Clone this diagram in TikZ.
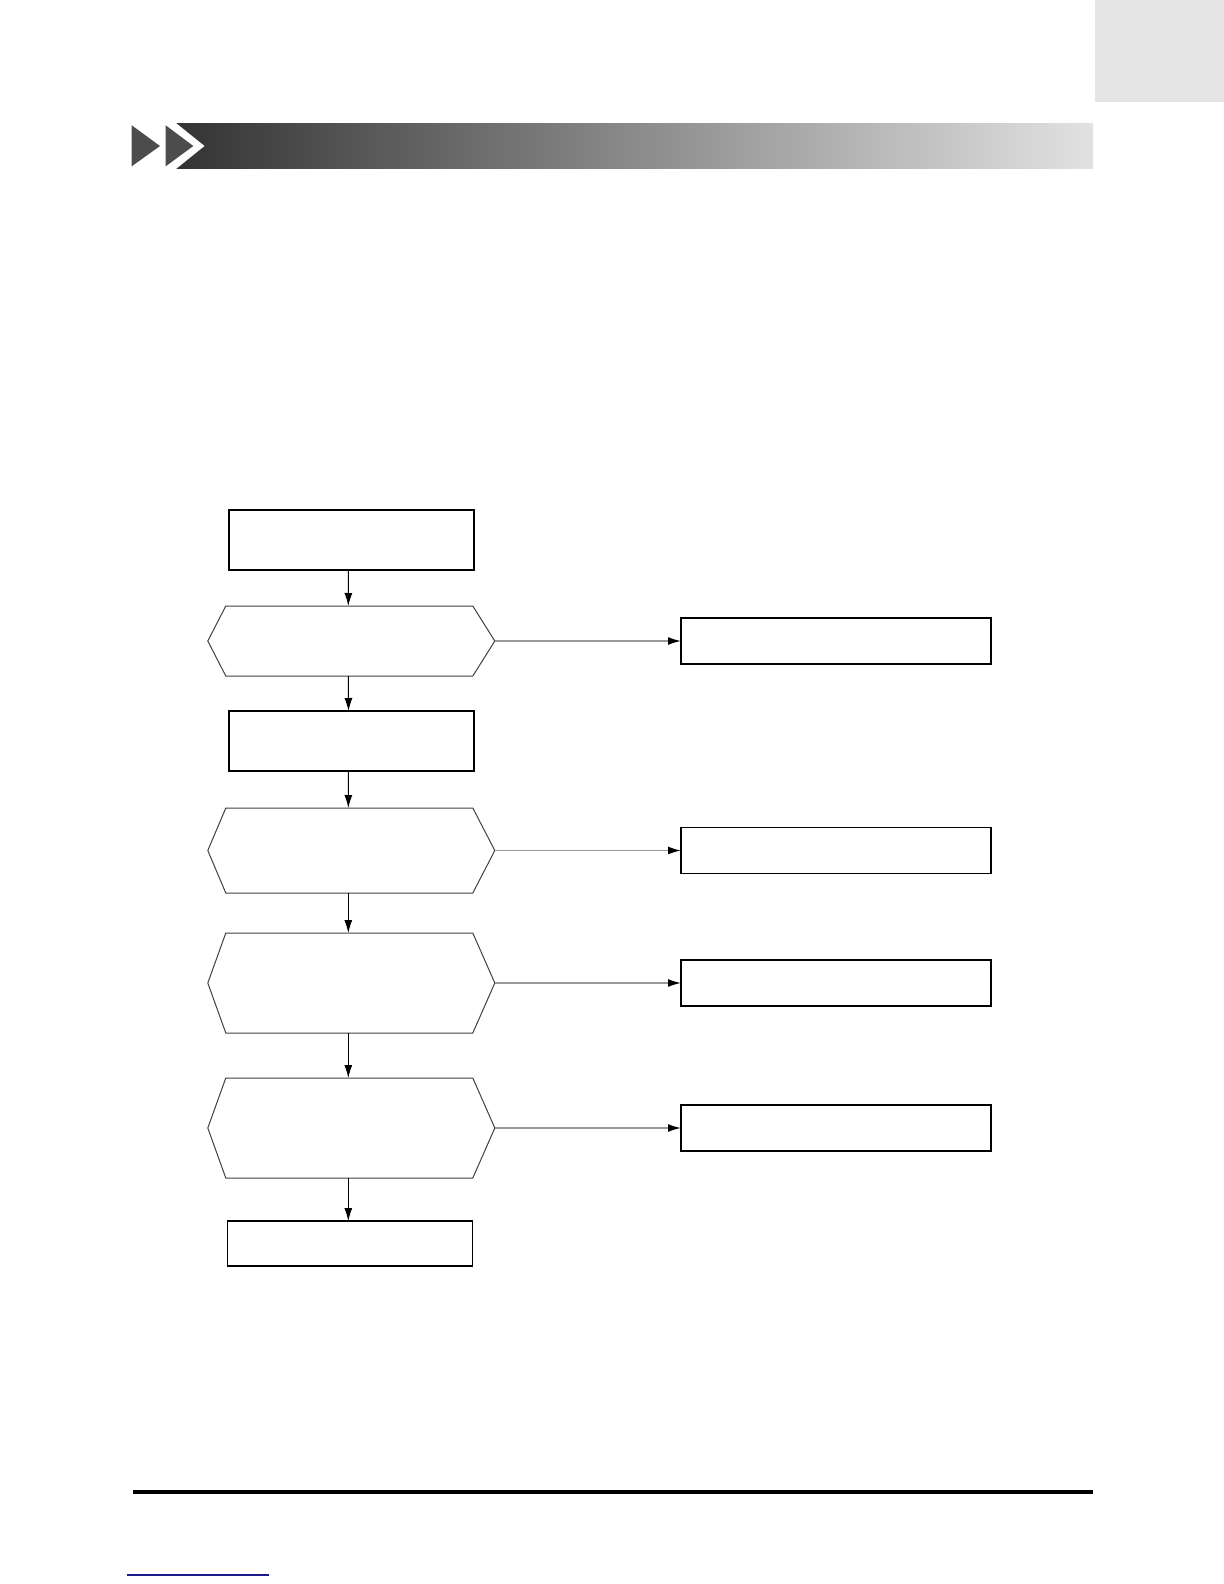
\documentclass[tikz,border=0pt]{standalone}
\usepackage{xcolor}
\usetikzlibrary{arrows.meta, positioning}

\definecolor{tabgray}{HTML}{E4E4E4}
\definecolor{bardark}{HTML}{333333}
\definecolor{barlight}{HTML}{E2E2E2}
\definecolor{linkblue}{HTML}{1A1A8C}

\tikzset{
  stepbox/.style={draw, line width=0.65pt, inner sep=0pt, outer sep=0pt, minimum width=122.5pt},
  sidebox/.style={draw, line width=0.65pt, inner sep=0pt, outer sep=0pt, minimum width=155pt, minimum height=23pt},
  hexbox/.style={inner sep=0pt, outer sep=0pt, minimum width=143.5pt},
  hexline/.style={draw=black!75, line width=0.5pt},
  flow/.style={-{Latex[length=6.5pt,width=4pt,black]}, line width=0.5pt},
  sideflow/.style={flow, draw=black!40, line width=0.7pt},
}

\newcommand{\hexoutline}[1]{%
  \draw[hexline] (#1.west) -- ([xshift=9pt]#1.north west) -- ([xshift=-11pt]#1.north east)
    -- (#1.east) -- ([xshift=-11pt]#1.south east) -- ([xshift=9pt]#1.south west) -- cycle;}

\begin{document}
\begin{tikzpicture}[x=0.5pt,y=-0.5pt]
  \useasboundingbox (0,0) rectangle (1224,1584);

  % page furniture
  \fill[tabgray] (1095,0) rectangle (1224,101.7);
  \shade[left color=bardark, right color=barlight] (175.7,124) rectangle (1093,168.5);
  \fill[white] (174.7,122) -- (204.5,146) -- (174.7,170) -- cycle;
  \fill[black!70] (131.7,125.3) -- (160,146) -- (131.7,166.3) -- cycle;
  \fill[black!70] (165.7,125.3) -- (193.3,146) -- (165.7,166.3) -- cycle;
  \draw[line width=2pt] (132.7,1492) -- (1093,1492);
  \draw[linkblue, line width=0.6pt] (127,1575) -- (269,1575);

  % main column
  \node[stepbox, minimum height=30pt] (b1) at (351.5,540) {};
  \node[hexbox, minimum height=35pt] (d1) at (351.3,641) {};
  \node[stepbox, minimum height=30pt] (b2) at (351.5,741) {};
  \node[hexbox, minimum height=42.5pt] (d2) at (351.3,850.5) {};
  \node[hexbox, minimum height=50pt] (d3) at (351.3,983) {};
  \node[hexbox, minimum height=50pt] (d4) at (351.3,1128) {};
  \node[stepbox, minimum height=22.5pt] (b3) at (350,1243.5) {};
  \hexoutline{d1}
  \hexoutline{d2}
  \hexoutline{d3}
  \hexoutline{d4}

  % side column
  \node[sidebox] (r1) at (836,641) {};
  \node[sidebox] (r2) at (836,850.5) {};
  \node[sidebox] (r3) at (836,983) {};
  \node[sidebox] (r4) at (836,1128) {};

  % connectors
  \draw[flow] ([xshift=-1.5pt]b1.south) -- ([xshift=-1.5pt]d1.north);
  \draw[flow] ([xshift=-1.5pt]d1.south) -- ([xshift=-1.5pt]b2.north);
  \draw[flow] ([xshift=-1.5pt]b2.south) -- ([xshift=-1.5pt]d2.north);
  \draw[flow] ([xshift=-1.5pt]d2.south) -- ([xshift=-1.5pt]d3.north);
  \draw[flow] ([xshift=-1.5pt]d3.south) -- ([xshift=-1.5pt]d4.north);
  \draw[flow] ([xshift=-1.5pt]d4.south) -- ([xshift=-1.5pt]b3.north -| d4.south);
  \draw[sideflow] (d1.east) -- (r1.west);
  \draw[sideflow] (d2.east) -- (r2.west);
  \draw[sideflow] (d3.east) -- (r3.west);
  \draw[sideflow] (d4.east) -- (r4.west);
\end{tikzpicture}
\end{document}
